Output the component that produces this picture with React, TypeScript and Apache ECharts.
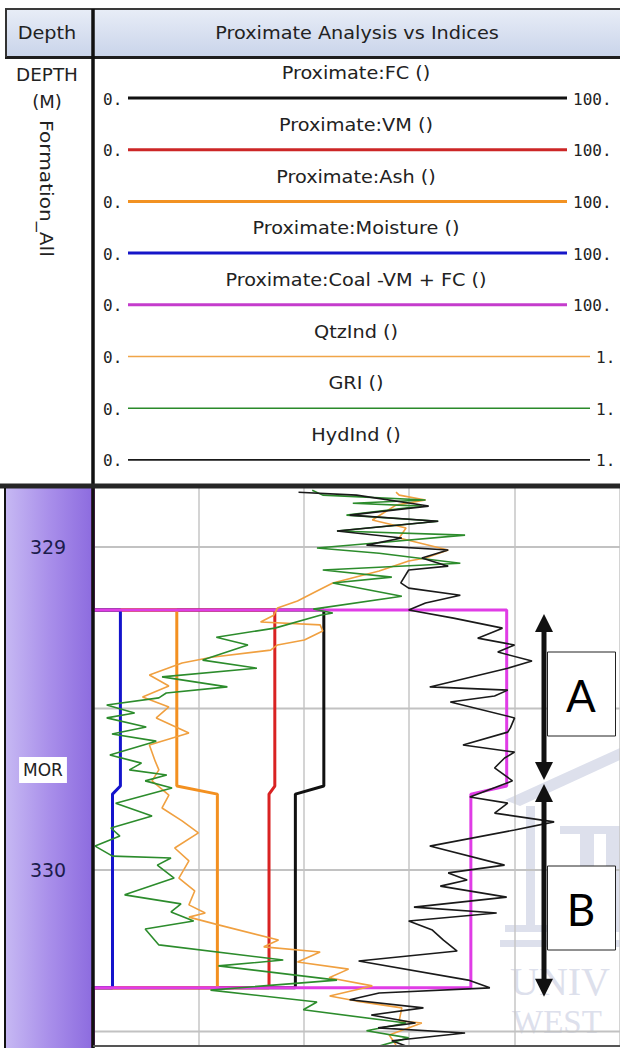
import React, { useEffect, useRef } from "react";
import * as echarts from "echarts";

// ---------- depth axis ----------
const depthMin = 328.817;
const depthMax = 330.542;
const depthGridTicks = [329, 329.5, 330, 330.5];
const depthLabelTicks = [329, 330];
const formationNames = ["MOR"];
const formationDepths = [329.69];

// ---------- proximate analysis (%) : coal seam with two plies ----------
const seamTop = 329.195;
const plyBoundaryTop = 329.74;
const plyBoundaryBase = 329.765;
const seamBase = 330.365;
const fcPly = [43.8, 38.4];
const vmPly = [34.5, 33.4];
const ashPly = [15.9, 23.6];
const moisturePly = [5.2, 3.7];
const coalPly = [78.5, 71.7];

// ---------- indices (0 - 1) ----------
const qtzDepth = [328.830, 328.839, 328.854, 328.870, 328.916, 328.941, 328.972, 329.009, 329.034, 329.043, 329.074, 329.111, 329.136, 329.167, 329.189, 329.211, 329.232, 329.241, 329.260, 329.288, 329.303, 329.319, 329.341, 329.359, 329.396, 329.430, 329.464, 329.495, 329.529, 329.576, 329.613, 329.663, 329.690, 329.724, 329.768, 329.808, 329.848, 329.885, 329.932, 329.972, 330.025, 330.065, 330.108, 330.133, 330.146, 330.170, 330.217, 330.238, 330.254, 330.285, 330.307, 330.334, 330.359, 330.390, 330.406, 330.427, 330.467, 330.474, 330.511, 330.542];
const qtzValue = [0.575, 0.581, 0.631, 0.575, 0.530, 0.594, 0.581, 0.674, 0.631, 0.599, 0.543, 0.455, 0.425, 0.388, 0.350, 0.343, 0.318, 0.431, 0.436, 0.401, 0.350, 0.337, 0.225, 0.169, 0.107, 0.144, 0.094, 0.144, 0.120, 0.182, 0.107, 0.118, 0.125, 0.112, 0.144, 0.131, 0.169, 0.200, 0.155, 0.182, 0.163, 0.193, 0.182, 0.213, 0.182, 0.238, 0.352, 0.324, 0.431, 0.388, 0.485, 0.448, 0.530, 0.449, 0.500, 0.586, 0.581, 0.624, 0.562, 0.575];

const griDepth = [328.824, 328.839, 328.854, 328.864, 328.873, 328.901, 328.920, 328.950, 328.963, 328.988, 329.003, 329.019, 329.050, 329.071, 329.093, 329.111, 329.152, 329.192, 329.204, 329.211, 329.251, 329.279, 329.303, 329.350, 329.375, 329.402, 329.433, 329.452, 329.467, 329.489, 329.514, 329.529, 329.557, 329.579, 329.601, 329.644, 329.669, 329.690, 329.706, 329.724, 329.746, 329.793, 329.833, 329.870, 329.895, 329.926, 329.957, 329.963, 329.985, 330.025, 330.077, 330.105, 330.130, 330.158, 330.183, 330.232, 330.279, 330.297, 330.341, 330.372, 330.409, 330.433, 330.474, 330.498, 330.520, 330.545];
const griValue = [0.416, 0.436, 0.631, 0.493, 0.624, 0.481, 0.655, 0.463, 0.706, 0.530, 0.425, 0.543, 0.697, 0.436, 0.567, 0.455, 0.586, 0.418, 0.455, 0.431, 0.345, 0.234, 0.294, 0.208, 0.311, 0.131, 0.255, 0.139, 0.125, 0.026, 0.079, 0.026, 0.101, 0.036, 0.120, 0.032, 0.092, 0.069, 0.140, 0.099, 0.150, 0.043, 0.112, 0.034, 0.051, 0.004, 0.037, 0.148, 0.122, 0.154, 0.060, 0.167, 0.148, 0.191, 0.099, 0.125, 0.361, 0.238, 0.463, 0.223, 0.425, 0.399, 0.594, 0.519, 0.599, 0.543];

const hydDepth = [328.830, 328.839, 328.873, 328.901, 328.920, 328.950, 328.972, 328.994, 329.009, 329.034, 329.059, 329.071, 329.111, 329.127, 329.149, 329.173, 329.195, 329.220, 329.251, 329.282, 329.303, 329.325, 329.353, 329.375, 329.433, 329.443, 329.461, 329.480, 329.529, 329.560, 329.573, 329.613, 329.635, 329.653, 329.684, 329.724, 329.774, 329.793, 329.824, 329.851, 329.876, 329.926, 329.985, 330.009, 330.031, 330.050, 330.084, 330.115, 330.133, 330.158, 330.186, 330.217, 330.251, 330.282, 330.341, 330.365, 330.381, 330.402, 330.427, 330.449, 330.474, 330.489, 330.505, 330.529, 330.545];
const hydValue = [0.390, 0.500, 0.637, 0.487, 0.655, 0.463, 0.586, 0.519, 0.674, 0.624, 0.674, 0.599, 0.584, 0.599, 0.697, 0.631, 0.599, 0.684, 0.777, 0.730, 0.800, 0.768, 0.833, 0.787, 0.639, 0.787, 0.762, 0.678, 0.800, 0.792, 0.787, 0.702, 0.800, 0.781, 0.762, 0.796, 0.715, 0.787, 0.762, 0.875, 0.800, 0.639, 0.781, 0.674, 0.710, 0.659, 0.785, 0.609, 0.766, 0.599, 0.644, 0.665, 0.691, 0.504, 0.712, 0.753, 0.543, 0.487, 0.627, 0.528, 0.612, 0.541, 0.706, 0.567, 0.594];

// ---------- header texts ----------
const trackTitles = ["Depth", "Proximate Analysis vs Indices"];
const depthHeader = ["DEPTH", "(M)", "Formation_All"];
const curveNames = ["Proximate:FC ()", "Proximate:VM ()", "Proximate:Ash ()", "Proximate:Moisture ()", "Proximate:Coal -VM + FC ()", "QtzInd ()", "GRI ()", "HydInd ()"];
const curveLeftScale = ["0.", "0.", "0.", "0.", "0.", "0.", "0.", "0."];
const curveRightScale = ["100.", "100.", "100.", "100.", "100.", "1.", "1.", "1."];
const curveColors = ["#111111", "#cc2626", "#f29222", "#1616c8", "#c43ccc", "#f0a548", "#2a8a2a", "#1a1a1a"];
const plotColors = ["#111111", "#d92222", "#f39020", "#1414cc", "#e03ce6", "#f0a040", "#2c8c2c", "#1a1a1a"];
const annotationLabels = ["A", "B"];
const watermark = ["UNIV", "WEST"];

// ---------- layout ----------
const PLOT_L = 93, PLOT_T = 488, PLOT_W = 534, PLOT_H = 557;
const FONT = "DejaVu Sans";
const depthToY = (d: number) => PLOT_T + ((d - depthMin) / (depthMax - depthMin)) * PLOT_H;

const stepData = (ply: number[]) => [
  [0, depthMin - 0.2], [0, seamTop], [ply[0], seamTop], [ply[0], plyBoundaryTop],
  [ply[1], plyBoundaryBase], [ply[1], seamBase], [0, seamBase], [0, depthMax + 0.2],
];
const zipData = (d: number[], v: number[]) => d.map((dd, i) => [v[i], dd]);

function txt(text: string, x: number, y: number, size: number, opts: any = {}) {
  const style: any = {
    text, x: 0, y: 0, fill: opts.fill ?? "#222", textAlign: opts.align ?? "center",
    textVerticalAlign: "middle", fontSize: size, fontFamily: opts.family ?? FONT,
    fontWeight: opts.weight ?? "normal",
  };
  if (opts.bg) { style.backgroundColor = opts.bg; style.padding = opts.padding ?? [4, 5]; }
  return { type: "text", x, y, z: opts.z ?? 20, scaleX: opts.scaleX ?? 1, rotation: opts.rotation ?? 0, style };
}
function ln(x1: number, y1: number, x2: number, y2: number, stroke: string, w: number, z = 20) {
  return { type: "line", z, shape: { x1, y1, x2, y2 }, style: { stroke, lineWidth: w } };
}

export default function App() {
  const ref = useRef<HTMLDivElement>(null);
  useEffect(() => {
    document.body.style.margin = "0";
    const chart = echarts.init(ref.current!, undefined, { renderer: "svg" });

    const graphic: any[] = [];
    // header bar
    graphic.push({
      type: "rect", z: 5, shape: { x: 6, y: 9, width: 614, height: 48 },
      style: { fill: new echarts.graphic.LinearGradient(0, 0, 0, 1, [{ offset: 0, color: "#e8edf7" }, { offset: 1, color: "#c9d4ea" }]) },
    });
    graphic.push(ln(5, 9, 620, 9, "#3a3a3a", 2));
    graphic.push(ln(5, 57.5, 620, 57.5, "#1e1e1e", 3));
    graphic.push(ln(6, 9, 6, 57, "#333", 2));
    graphic.push(ln(93, 9, 93, 1048, "#111", 3.5, 30));
    graphic.push(txt(trackTitles[0], 47, 33, 18, { scaleX: 1.07 }));
    graphic.push(txt(trackTitles[1], 357, 33, 18, { scaleX: 1.07 }));
    // depth header
    graphic.push(txt(depthHeader[0], 47, 75, 17, { scaleX: 1.08 }));
    graphic.push(txt(depthHeader[1], 47, 101, 18));
    graphic.push(txt(depthHeader[2], 46, 120, 18, { align: "left", rotation: -Math.PI / 2, scaleX: 1.12 }));
    // curve headers
    curveNames.forEach((name, i) => {
      const ly = 98 + i * 51.7;
      const prox = i < 5;
      const x2 = prox ? 567 : 590;
      graphic.push(txt(name, 356, ly - 25, 18, { scaleX: 1.07 }));
      graphic.push(ln(128, ly, x2, ly, curveColors[i], prox ? 3 : 1.6));
      graphic.push(txt(curveLeftScale[i], 103, ly + 1, 16, { align: "left", family: "DejaVu Sans Mono" }));
      graphic.push(txt(curveRightScale[i], x2 + 6, ly + 1, 16, { align: "left", family: "DejaVu Sans Mono" }));
    });
    // separator between header and plot
    graphic.push(ln(0, 486, 620, 486, "#262626", 5, 30));
    // depth column
    graphic.push({
      type: "rect", z: -5, shape: { x: 6, y: 488, width: 86, height: 560 },
      style: { fill: new echarts.graphic.LinearGradient(0, 0, 1, 0, [{ offset: 0, color: "#c6b8f3" }, { offset: 0.5, color: "#a98fea" }, { offset: 1, color: "#8d6cdf" }]) },
    });
    graphic.push(ln(5, 488, 5, 1048, "#111", 2, 30));
    graphic.push(ln(93, 1046, 620, 1046, "#555", 2, 30));
    // formation top label
    formationNames.forEach((n, i) => {
      graphic.push(txt(n, 43, depthToY(formationDepths[i]), 17, { bg: "#ffffff", padding: [5, 4, 4, 4], fill: "#222", z: 40 }));
    });
    // watermark (faint)
    const wm = "#dde0ec";
    graphic.push({ type: "polygon", z: 0, shape: { points: [[505, 800], [620, 748], [620, 760], [520, 806]] }, style: { fill: wm } });
    graphic.push({ type: "rect", z: 0, shape: { x: 560, y: 826, width: 60, height: 8 }, style: { fill: wm } });
    [[526, 806, 9], [580, 834, 14], [606, 834, 14]].forEach(([x, y, w]) =>
      graphic.push({ type: "rect", z: 0, shape: { x, y, width: w, height: 925 - y }, style: { fill: wm } }));
    graphic.push({ type: "rect", z: 0, shape: { x: 505, y: 925, width: 115, height: 7 }, style: { fill: wm } });
    graphic.push({ type: "rect", z: 0, shape: { x: 500, y: 940, width: 120, height: 7 }, style: { fill: wm } });
    graphic.push(txt(watermark[0], 510, 981, 40, { align: "left", family: "Liberation Serif", fill: wm, z: 0 }));
    graphic.push(txt(watermark[1], 512, 1022, 33, { align: "left", family: "Liberation Serif", fill: wm, z: 0 }));
    // ply annotations (arrows + boxes)
    const ax = 544;
    const arrow = (yTop: number, yBot: number) => {
      graphic.push(ln(ax, yTop + 12, ax, yBot - 12, "#111", 5, 100));
      graphic.push({ type: "polygon", z: 100, shape: { points: [[ax, yTop], [ax - 9, yTop + 18], [ax + 9, yTop + 18]] }, style: { fill: "#111" } });
      graphic.push({ type: "polygon", z: 100, shape: { points: [[ax, yBot], [ax - 9, yBot - 18], [ax + 9, yBot - 18]] }, style: { fill: "#111" } });
    };
    arrow(depthToY(seamTop) + 4, depthToY(plyBoundaryTop) - 6);
    arrow(depthToY(plyBoundaryTop) - 2, depthToY(seamBase) + 9);
    const box = (yc: number, label: string) => {
      graphic.push({ type: "rect", z: 100, shape: { x: 547.5, y: yc - 42, width: 68, height: 84 }, style: { fill: "#fff", stroke: "#222", lineWidth: 1 } });
      graphic.push(txt(label, 581, yc + 1, 44, { family: "Lato", fill: "#000", z: 101 }));
    };
    box(694, annotationLabels[0]);
    box(908, annotationLabels[1]);

    const prox = [fcPly, vmPly, ashPly, moisturePly, coalPly];
    const series: any[] = [];
    depthGridTicks.forEach((d) => series.push({
      type: "line", xAxisIndex: 0, yAxisIndex: 0, z: 1, silent: true, symbol: "none",
      data: [[0, d], [100, d]], lineStyle: { color: "#c2c2c2", width: 2 },
    }));
    prox.forEach((ply, i) => series.push({
      name: curveNames[i], type: "line", xAxisIndex: 0, yAxisIndex: 0, z: 2, symbol: "none",
      data: stepData(ply), lineStyle: { color: plotColors[i], width: 3 },
    }));
    [[qtzDepth, qtzValue], [griDepth, griValue], [hydDepth, hydValue]].forEach(([d, v], k) => series.push({
      name: curveNames[5 + k], type: "line", xAxisIndex: 1, yAxisIndex: 0, z: 3, symbol: "none",
      data: zipData(d, v), lineStyle: { color: plotColors[5 + k], width: 1.6 },
    }));

    chart.setOption({
      animation: false,
      backgroundColor: "#ffffff",
      graphic,
      grid: [
        { left: PLOT_L, top: PLOT_T, width: PLOT_W, height: PLOT_H },
        { left: 6, top: PLOT_T, width: 86, height: PLOT_H },
      ],
      xAxis: [
        { gridIndex: 0, type: "value", min: 0, max: 100, interval: 20, axisLine: { show: false }, axisTick: { show: false }, axisLabel: { show: false }, splitLine: { show: true, lineStyle: { color: "#c6c6c6", width: 1.5 } } },
        { gridIndex: 0, type: "value", min: 0, max: 1, show: false },
        { gridIndex: 1, type: "value", min: 0, max: 1, show: false },
      ],
      yAxis: [
        { gridIndex: 0, type: "value", inverse: true, min: depthMin, max: depthMax, axisLine: { show: false }, axisTick: { show: false }, axisLabel: { show: false }, splitLine: { show: false } },
        {
          gridIndex: 1, type: "value", inverse: true, min: depthMin, max: depthMax, z: 10,
          axisLine: { show: false }, axisTick: { show: false }, splitLine: { show: false },
          axisLabel: { customValues: depthLabelTicks, inside: true, margin: 42, align: "center", verticalAlign: "middle", color: "#1c1c4c", fontFamily: FONT, fontSize: 19, formatter: (v: number) => String(v) },
        },
      ],
      series,
    });
    return () => chart.dispose();
  }, []);
  return <div ref={ref} style={{ width: 620, height: 1048 }} />;
}
